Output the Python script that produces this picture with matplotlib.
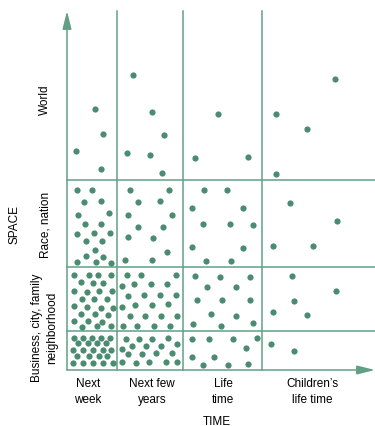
# time / space perspective chart: dots show where people's concerns lie
import matplotlib.pyplot as plt

plt.rcParams['font.family'] = ['Liberation Sans', 'DejaVu Sans']

# dot positions per space band (x = time, y = space, arbitrary units)
world_x = [28, 36, 9, 34, 66, 85, 97, 60, 83, 95, 151, 128, 181, 209, 240, 268, 209]
world_y = [261, 236, 219, 201, 295, 258, 235, 217, 215, 197, 256, 212, 213, 256, 241, 291, 196]

race_x = [10, 25, 17, 34, 11, 42, 18, 34, 10, 27, 43, 19, 35, 28, 19, 36, 10, 29, 44,
          63, 102, 71, 93, 61, 105, 71, 96, 61, 86, 100, 58, 85,
          137, 160, 125, 176, 136, 163, 186, 125, 176, 139, 164,
          223, 270, 206, 246]
race_y = [180, 180, 168, 169, 155, 157, 146, 146, 136, 137, 137, 129, 129, 120, 114, 113, 108, 108, 107,
          180, 180, 168, 169, 155, 155, 143, 143, 133, 132, 118, 110, 110,
          180, 180, 162, 162, 146, 146, 145, 123, 122, 109, 109,
          167, 149, 124, 124]

business_x = [7, 22, 31, 44, 14, 26, 36, 7, 20, 32, 45, 15, 27, 40, 7, 20, 34, 46, 14, 28, 41, 7, 21, 35, 15, 30, 44,
              60, 74, 109, 55, 67, 84, 100, 61, 77, 93, 109, 55, 68, 85, 101, 63, 78, 94, 110, 56, 70, 87, 103,
              128, 153, 183, 140, 169, 130, 155, 183, 144, 169, 126, 154, 186,
              225, 269, 227, 206, 240]
business_y = [95, 95, 95, 95, 88, 87, 87, 79, 78, 79, 79, 71, 71, 71, 64, 63, 62, 62, 56, 56, 55, 49, 49, 48, 43, 44, 44,
              95, 95, 95, 84, 86, 86, 86, 74, 75, 75, 75, 63, 65, 65, 66, 54, 54, 54, 54, 44, 44, 44, 44,
              94, 93, 93, 83, 83, 70, 70, 70, 56, 54, 46, 44, 47,
              94, 79, 69, 58, 55]

neigh_x = [7, 16, 25, 34, 43, 11, 21, 30, 39, 6, 16, 26, 36, 44, 10, 22, 32, 40, 6, 16, 26, 36, 46,
           59, 72, 85, 101, 55, 65, 79, 94, 110, 61, 75, 89, 105, 55, 69, 82, 99, 110,
           125, 142, 166, 190, 179, 125, 147, 136, 161, 181,
           204, 227]
neigh_y = [32, 32, 32, 32, 32, 27, 27, 27, 27, 20, 20, 20, 20, 20, 14, 14, 14, 14, 7, 7, 7, 7, 7,
           31, 31, 31, 32, 21, 24, 24, 24, 26, 16, 16, 17, 17, 8, 7, 8, 8, 8,
           31, 31, 31, 32, 22, 13, 13, 5, 5, 6,
           26, 19]

time_edges = [50, 116, 195]
space_edges = [39, 103, 190]
time_labels = ['Next\nweek', 'Next few\nyears', 'Life\ntime', 'Children\u2019s\nlife time']
time_label_x = [21, 85, 156, 245]
space_labels = ['Business, city, family\nneighborhood', 'Race, nation', 'World']
space_label_y = [43, 146, 271]

line_col = '#62a086'
dot_col = '#4b8b70'

fig = plt.figure(figsize=(3.75, 4.27), dpi=100)
ax = fig.add_axes([67 / 375, 56 / 427, 308 / 375, 359 / 427])
ax.set_xlim(0, 308)
ax.set_ylim(0, 359)
ax.axis('off')

for x in time_edges:
    ax.plot([x, x], [0, 359], color=line_col, lw=1.1, clip_on=False)
for y in space_edges:
    ax.plot([0, 308], [y, y], color=line_col, lw=1.1, clip_on=False)

arrow = dict(arrowstyle='-|>,head_length=0.6,head_width=0.15', color=line_col,
             lw=1.1, mutation_scale=18, shrinkA=0, shrinkB=0)
ax.annotate('', xy=(0, 359), xytext=(0, 0), arrowprops=arrow, annotation_clip=False)
ax.annotate('', xy=(308, 0), xytext=(0, 0), arrowprops=arrow, annotation_clip=False)

for xs, ys in [(world_x, world_y), (race_x, race_y), (business_x, business_y), (neigh_x, neigh_y)]:
    ax.scatter(xs, ys, s=20, color=dot_col, linewidths=0, clip_on=False, zorder=3)

for lab, x in zip(time_labels, time_label_x):
    ax.text(x, -21, lab, ha='center', va='center', fontsize=8.5, linespacing=1.35, clip_on=False)
ax.text(150, -51, 'TIME', ha='center', va='center', fontsize=8.5, clip_on=False)

for lab, y in zip(space_labels, space_label_y):
    ax.text(-22, y, lab, ha='center', va='center', rotation=90, fontsize=8.5,
            linespacing=1.35, multialignment='center', clip_on=False)
ax.text(-53, 146, 'SPACE', ha='center', va='center', rotation=90, fontsize=8.5, clip_on=False)

plt.savefig('out.png', dpi=100)
